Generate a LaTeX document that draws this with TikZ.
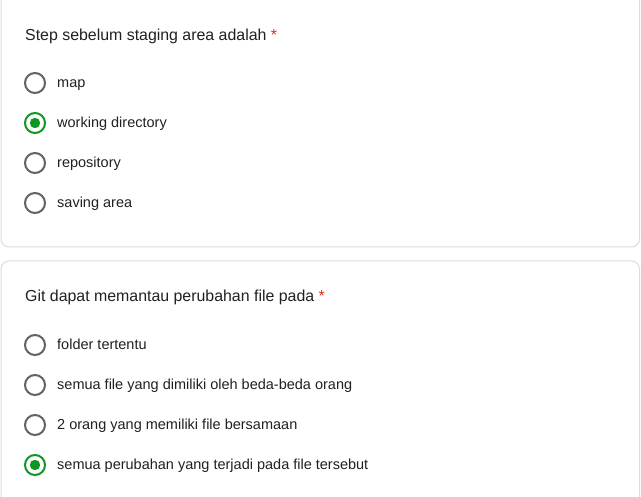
\documentclass[tikz,border=0pt]{standalone}
\usepackage{fontspec}
\setmainfont{Liberation Sans}
\definecolor{txt}{HTML}{202124}
\definecolor{ring}{HTML}{5F6368}
\definecolor{sel}{RGB}{16,150,34}
\definecolor{cardline}{HTML}{DADCE0}
\definecolor{star}{HTML}{D93025}
\begin{document}
\begin{tikzpicture}[x=1pt,y=-1pt,
  card/.style={draw=cardline,line width=1pt,rounded corners=8pt,fill=white},
  radiooff/.style={draw=ring,line width=2pt},
  radioon/.style={draw=sel,line width=2pt},
  dot/.style={fill=sel},
  opt/.style={anchor=base west,inner sep=0pt,text=txt,font=\fontsize{14.5}{17}\selectfont},
  qtitle/.style={anchor=base west,inner sep=0pt,text=txt,font=\fontsize{15.9}{19}\selectfont},
  req/.style={anchor=base west,inner sep=0pt,text=star,font=\fontsize{15.9}{19}\selectfont}]
\useasboundingbox (0,0) rectangle (641,497);
\fill[white] (0,0) rectangle (641,497);
% cards
\draw[card] (1,-20) rectangle (639.5,247);
\draw[card] (1,261) rectangle (639.5,520);
% question 1
\node[qtitle] (q1) at (25,41) {Step sebelum staging area adalah};
\node[req] (r1) at ([xshift=4pt]q1.base east) {*};
\draw[radiooff] (35,83) circle (10) node (c1a) {};
\node[opt] (o1a) at (57,88) {map};
\draw[radioon] (35,123) circle (10);
\fill[dot] (35,123) circle (5.2) node (c1b) {};
\node[opt] (o1b) at (57,128) {working directory};
\draw[radiooff] (35,163) circle (10) node (c1c) {};
\node[opt] (o1c) at (57,168) {repository};
\draw[radiooff] (35,203) circle (10) node (c1d) {};
\node[opt] (o1d) at (57,208) {saving area};
% question 2
\node[qtitle] (q2) at (25,302) {Git dapat memantau perubahan file pada};
\node[req] (r2) at ([xshift=4pt]q2.base east) {*};
\draw[radiooff] (35,345) circle (10) node (c2a) {};
\node[opt] (o2a) at (57,350) {folder tertentu};
\draw[radiooff] (35,385) circle (10) node (c2b) {};
\node[opt] (o2b) at (57,390) {semua file yang dimiliki oleh beda-beda orang};
\draw[radiooff] (35,425) circle (10) node (c2c) {};
\node[opt] (o2c) at (57,430) {2 orang yang memiliki file bersamaan};
\draw[radioon] (35,465) circle (10);
\fill[dot] (35,465) circle (5.2) node (c2d) {};
\node[opt] (o2d) at (57,470) {semua perubahan yang terjadi pada file tersebut};
\end{tikzpicture}
\end{document}
